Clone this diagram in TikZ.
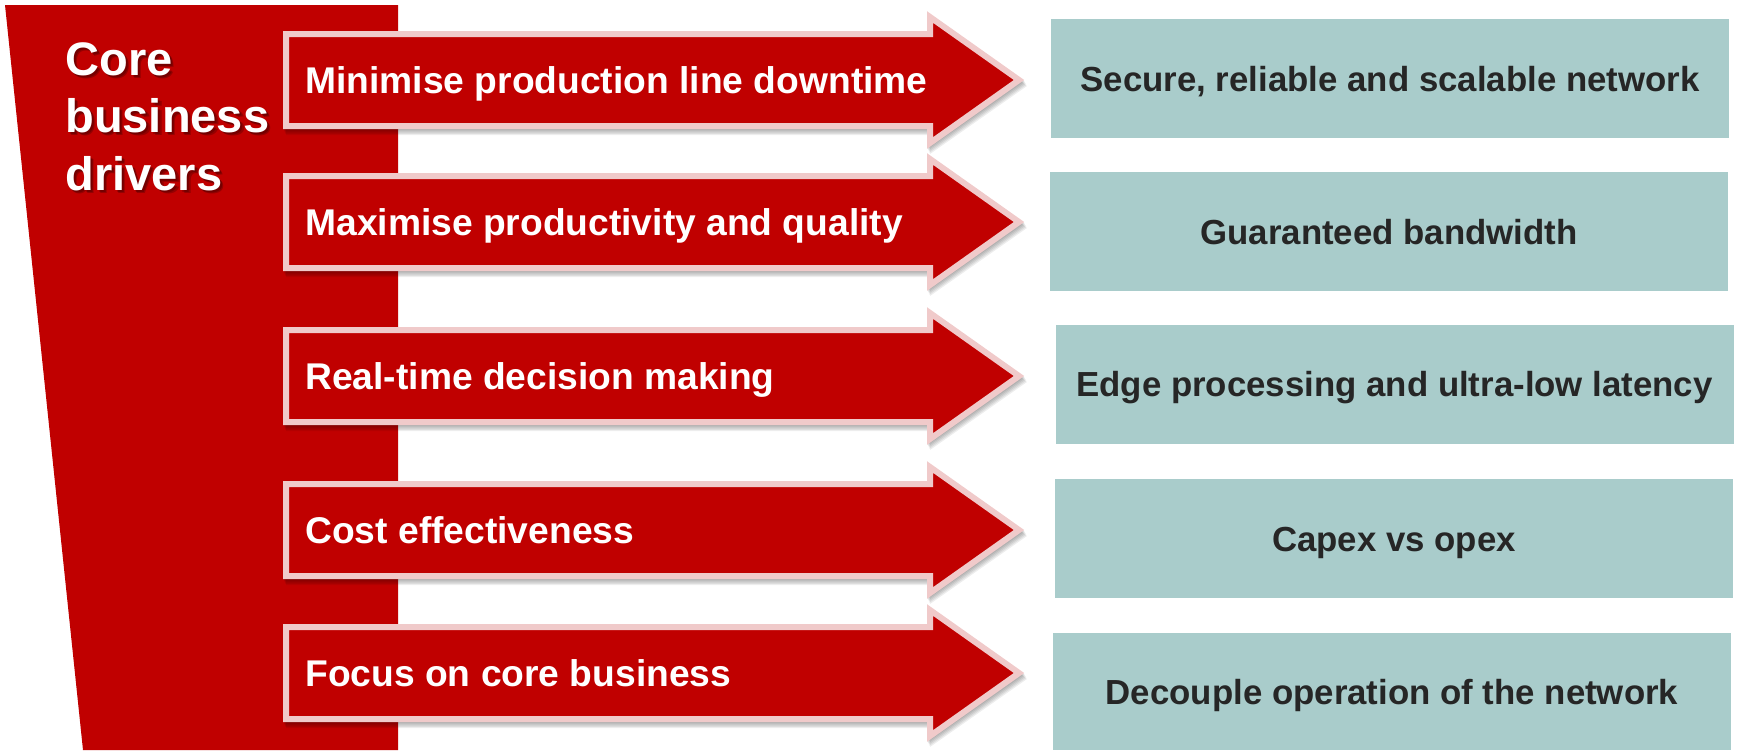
\documentclass[tikz,border=0pt]{standalone}
\usepackage{fontspec}
\setmainfont{Liberation Sans}
\definecolor{dred}{RGB}{192,0,0}
\definecolor{pinkb}{RGB}{240,202,202}
\definecolor{boxgreen}{RGB}{169,204,203}
\definecolor{boxtext}{RGB}{38,38,38}
\tikzset{
  arrowshape/.style={fill=dred, draw=pinkb, line width=3pt, line join=miter},
  arrowshadow/.style={fill=black, opacity=0.07},
  arrowtext/.style={anchor=base west, inner sep=0pt, text=white, font=\fontsize{18.6pt}{22pt}\selectfont\bfseries},
  gbox/.style={fill=boxgreen, inner sep=0pt, minimum width=339pt, minimum height=59.5pt,
    text height=12.5pt, text depth=0pt, text=boxtext, font=\fontsize{17.4pt}{21pt}\selectfont\bfseries},
  coretext/.style={anchor=base west, inner sep=0pt, text=white, font=\fontsize{23.5pt}{28pt}\selectfont\bfseries},
  coreshadow/.style={anchor=base west, inner sep=0pt, text=black, opacity=0.22, font=\fontsize{23.5pt}{28pt}\selectfont\bfseries}
}
\begin{document}
\begin{tikzpicture}[x=0.5pt,y=-0.5pt]
\useasboundingbox (0,0) rectangle (1746,750);
% left trapezoid
\fill[dred] (5,5) -- (398,5) -- (398,750) -- (83,750) -- cycle;
% core text with shadow
\foreach \s in {2,3.5} {
  \node[coreshadow] (cs1\s) at (65+\s,75+\s) {Core};
  \node[coreshadow] (cs2\s) at (65+\s,132+\s) {business};
  \node[coreshadow] (cs3\s) at (65+\s,190+\s) {drivers};
}
\node[coretext] (core1) at (65,75) {Core};
\node[coretext] (core2) at (65,132) {business};
\node[coretext] (core3) at (65,190) {drivers};
% arrows
\foreach \cy/\txt [count=\i] in {80/Minimise production line downtime,
  222/Maximise productivity and quality,
  376/Real-time decision making,
  530/Cost effectiveness,
  673/Focus on core business} {
  \begin{scope}[shift={(0,\cy)}]
    \foreach \d in {1,2,3,4,5} {
      \fill[arrowshadow, shift={(0.6*\d,1.2*\d)}] (283,-49) -- (927,-49) -- (927,-68) -- (1024,0) -- (927,68) -- (927,49) -- (283,49) -- cycle;
    }
    \filldraw[arrowshape] (286,-46) -- (930,-46) -- (930,-63) -- (1019,0) -- (930,63) -- (930,46) -- (286,46) -- cycle;
    \node[arrowtext] (a\i) at (305,13) {\txt};
  \end{scope}
}
% right boxes
\node[gbox] (b1) at (1390,78.5) {Secure, reliable and scalable network};
\node[gbox] (b2) at (1389,231.5) {Guaranteed bandwidth};
\node[gbox] (b3) at (1394.5,384) {Edge processing and ultra-low latency};
\node[gbox] (b4) at (1394,538.5) {Capex vs opex};
\node[gbox, minimum height=58.5pt] (b5) at (1392,691.5) {Decouple operation of the network};
\end{tikzpicture}
\end{document}
